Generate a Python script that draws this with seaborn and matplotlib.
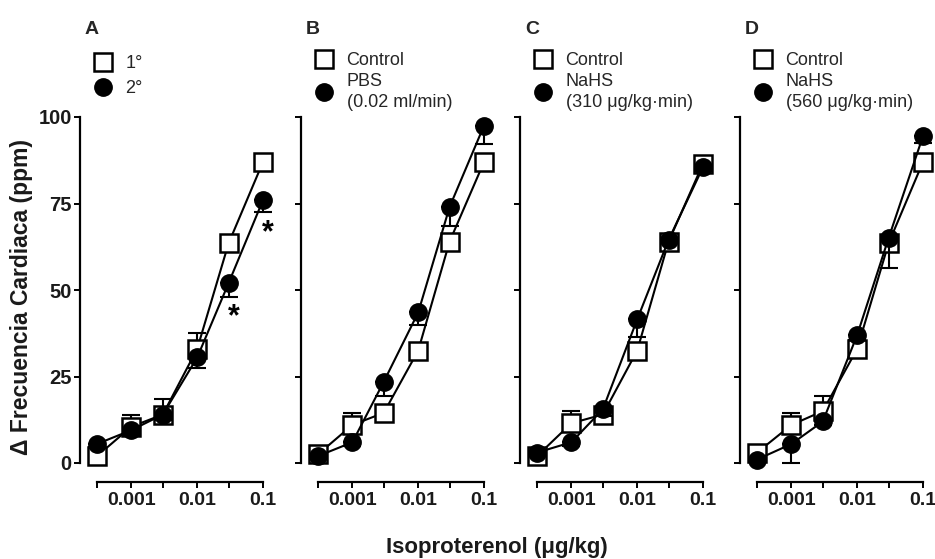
import numpy as np
import pandas as pd
import matplotlib
matplotlib.use("Agg")
import matplotlib.pyplot as plt
import seaborn as sns
from matplotlib.lines import Line2D

sns.set_theme(style="ticks")
plt.rcParams['font.family'] = ['Liberation Sans', 'DejaVu Sans']

# ---- data ----
doses = [0.0003, 0.001, 0.003, 0.01, 0.03, 0.1]
xtick_labels = ["", "0.001", "", "0.01", "", "0.1"]
yticks = [0, 25, 50, 75, 100]

panel_letters = ["A", "B", "C", "D"]
ctrl_labels = ["1°", "Control", "Control", "Control"]
trt_labels = ["2°", "PBS\n(0.02 ml/min)", "NaHS\n(310 μg/kg·min)", "NaHS\n(560 μg/kg·min)"]

# control (open squares) mean and SEM (drawn above)
ctrl_A = [2, 10.5, 14, 33, 63.5, 87]
ctrl_A_err = [1, 3.5, 4.5, 4.5, 1, 1]
# treatment (filled circles) mean and SEM (drawn below)
trt_A = [5.5, 9.5, 14, 30.5, 52, 76]
trt_A_err = [1, 1.5, 1.5, 3, 4, 3.5]

ctrl_B = [2.5, 11, 14.5, 32.5, 64, 87]
ctrl_B_err = [1, 3.5, 2, 2, 1.5, 1.5]
trt_B = [2, 6, 23.5, 43.5, 74, 97.5]
trt_B_err = [0.5, 1, 4.2, 3.6, 5.5, 5.2]

ctrl_C = [2, 11.5, 14, 32.5, 64, 86.5]
ctrl_C_err = [1, 3.5, 1.5, 1.5, 1, 1]
trt_C = [3, 6, 15.5, 41.5, 64.5, 85.5]
trt_C_err = [0.5, 1, 2, 5, 1, 1]

ctrl_D = [3, 11, 15, 33, 63.5, 87]
ctrl_D_err = [1, 3.5, 4.3, 1.5, 1, 1]
trt_D = [1, 5.5, 12, 37, 65, 94.5]
trt_D_err = [0.5, 5.5, 1, 1.5, 8.5, 2]

# significance marks in panel A
star_x = [0.03, 0.1]
star_y = [42, 66.5]

ctrl = [ctrl_A, ctrl_B, ctrl_C, ctrl_D]
ctrl_err = [ctrl_A_err, ctrl_B_err, ctrl_C_err, ctrl_D_err]
trt = [trt_A, trt_B, trt_C, trt_D]
trt_err = [trt_A_err, trt_B_err, trt_C_err, trt_D_err]

# ---- layout (pixels) ----
W, H = 935, 559
fig = plt.figure(figsize=(W / 100, H / 100), dpi=100)
y_top_px, y_bot_px = 117, 463
left_px = [80, 301, 520, 740]
offset_px = 17
decade_px = 65.8
first_log = np.log10(doses[0])
ax_w_px = offset_px + decade_px * (np.log10(doses[-1]) - first_log) + 8

lw = 1.5
for i in range(4):
    ax = fig.add_axes([left_px[i] / W, 1 - y_bot_px / H, ax_w_px / W, (y_bot_px - y_top_px) / H])
    ax.set_xscale("log")
    xl = 10 ** (first_log - offset_px / decade_px)
    xr = 10 ** (first_log + (ax_w_px - offset_px) / decade_px)
    ax.set_xlim(xl, xr)
    ax.set_ylim(0, 100)

    dfc = pd.DataFrame({"dose": doses, "val": ctrl[i]})
    dft = pd.DataFrame({"dose": doses, "val": trt[i]})
    zeros = [0] * len(doses)

    ax.errorbar(doses, ctrl[i], yerr=[zeros, ctrl_err[i]], fmt="none", ecolor="black",
                elinewidth=lw, capsize=6.5, capthick=lw, zorder=1.5, clip_on=False)
    ax.errorbar(doses, trt[i], yerr=[trt_err[i], zeros], fmt="none", ecolor="black",
                elinewidth=lw, capsize=6.5, capthick=lw, zorder=2.5, clip_on=False)
    sns.lineplot(data=dfc, x="dose", y="val", ax=ax, color="black", lw=lw,
                 marker="s", markersize=13, markerfacecolor="white",
                 markeredgecolor="black", markeredgewidth=1.8, clip_on=False, zorder=2)
    sns.lineplot(data=dft, x="dose", y="val", ax=ax, color="black", lw=lw,
                 marker="o", markersize=12.5, markerfacecolor="black",
                 markeredgecolor="black", markeredgewidth=1.0, clip_on=False, zorder=3)

    ax.set_xlabel("")
    ax.set_ylabel("")
    sns.despine(ax=ax)
    ax.spines["bottom"].set_position(("outward", 13.7))
    ax.spines["bottom"].set_bounds(doses[0], doses[-1])
    ax.spines["left"].set_bounds(0, 100)
    for s in ("left", "bottom"):
        ax.spines[s].set_linewidth(1.6)
        ax.spines[s].set_color("black")
    ax.set_xticks(doses)
    ax.set_xticklabels(xtick_labels, fontsize=14, fontweight="bold")
    ax.xaxis.set_minor_locator(matplotlib.ticker.NullLocator())
    ax.set_yticks(yticks)
    if i == 0:
        ax.set_yticklabels([str(v) for v in yticks], fontsize=14.5, fontweight="bold")
    else:
        ax.set_yticklabels([])
    ax.tick_params(axis="x", length=4.5, width=1.4, color="black", pad=3, labelcolor="#1a1a1a")
    ax.tick_params(axis="y", length=4.5, width=1.4, color="black", pad=1.5, labelcolor="#1a1a1a")
    ax.patch.set_alpha(0)

    if i == 0:
        for sx, sy in zip(star_x, star_y):
            ax.text(sx * 1.2, sy, "*", ha="center", va="center", fontsize=22,
                    fontweight="bold", color="black")

    # panel letter
    fig.text((left_px[i] + 5) / W, 1 - 29 / H, panel_letters[i], fontsize=14,
             fontweight="bold", ha="left", va="center")

    handles = [Line2D([], [], ls="none", marker="s", markersize=13, markerfacecolor="white",
                      markeredgecolor="black", markeredgewidth=1.8),
               Line2D([], [], ls="none", marker="o", markersize=12.5, markerfacecolor="black",
                      markeredgecolor="black")]
    top_px = 55 if i == 0 else 52
    leg = fig.legend(handles, [ctrl_labels[i], trt_labels[i]], loc="upper left",
                     bbox_to_anchor=((left_px[i] + 14) / W, 1 - top_px / H), frameon=False,
                     fontsize=13, handlelength=1.0, handletextpad=0.75,
                     labelspacing=0.45 if i == 0 else 0.2,
                     borderpad=0, borderaxespad=0)
    for t in leg.get_texts():
        t.set_linespacing(1.35)

fig.text(22 / W, 1 - 297 / H, "Δ Frecuencia Cardiaca (ppm)", rotation=90, fontsize=16.5,
         fontweight="bold", ha="center", va="center", color="#1a1a1a")
fig.text(497 / W, 1 - 547 / H, "Isoproterenol (μg/kg)", fontsize=16, fontweight="bold",
         ha="center", va="center", color="#1a1a1a")

fig.savefig("out.png", dpi=100)
